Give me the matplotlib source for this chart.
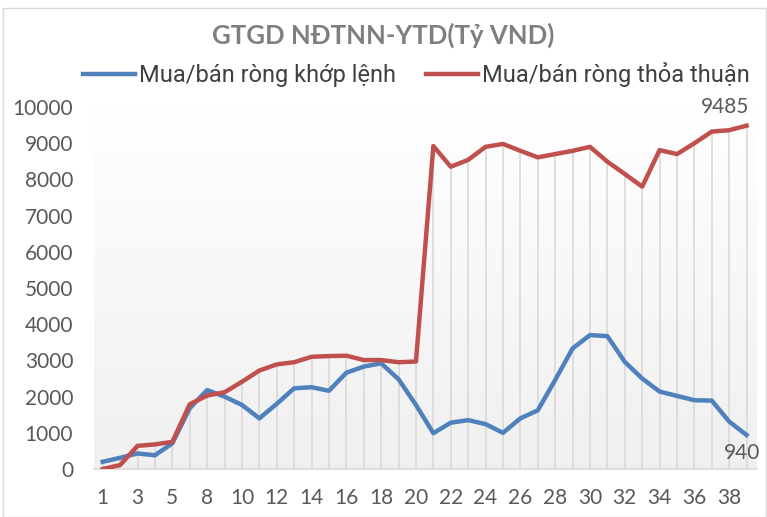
import numpy as np
import matplotlib.pyplot as plt
from matplotlib.patches import Rectangle

# category labels (one period is skipped in the source)
periods = [1, 2, 3, 4, 5, 7, 8, 9, 10, 11, 12, 13, 14, 15, 16, 17, 18, 19, 20,
           21, 22, 23, 24, 25, 26, 27, 28, 29, 30, 31, 32, 33, 34, 35, 36, 37, 38, 39]

khop_lenh = [200, 310, 430, 380, 710, 1680, 2180, 2000, 1770, 1400, 1800, 2230,
             2260, 2160, 2660, 2830, 2920, 2480, 1770, 990, 1280, 1350, 1240, 1000,
             1400, 1620, 2460, 3330, 3700, 3670, 2960, 2500, 2140, 2020, 1900, 1890,
             1310, 940]

thoa_thuan = [0, 110, 640, 680, 750, 1790, 2030, 2120, 2410, 2720, 2890, 2950,
              3100, 3120, 3130, 3010, 3010, 2950, 2970, 8920, 8350, 8540, 8900, 8980,
              8790, 8610, 8700, 8790, 8900, 8490, 8150, 7800, 8810, 8700, 9000, 9320,
              9360, 9485]

blue = '#4f81bd'
red = '#c0504d'
txt = '#595959'

fig = plt.figure(figsize=(7.67, 5.17), dpi=100)
ax = fig.add_axes([0.1226, 0.0928, 0.8644, 0.7002])

x = np.arange(len(periods))
top = np.maximum(khop_lenh, thoa_thuan)

# plot area gradient
grad = np.linspace(1, 0, 256).reshape(-1, 1)
c0 = np.array([1.0, 1.0, 1.0])
c1 = np.array([0.94, 0.94, 0.94])
img = c0 + (c1 - c0) * (1 - grad)[..., None] * np.ones((1, 1, 3))
ax.imshow(img, extent=[-0.5, 37.6, 0, 10000], aspect='auto', zorder=0)

# drop lines
ax.vlines(x, 0, top, color='#d9d9d9', lw=1.2, zorder=1)

ax.plot(x, khop_lenh, color=blue, lw=3.2, label='Mua/bán ròng khớp lệnh',
        solid_joinstyle='round', zorder=3)
ax.plot(x, thoa_thuan, color=red, lw=3.2, label='Mua/bán ròng thỏa thuận',
        solid_joinstyle='round', zorder=3)

ax.set_xlim(-0.5, 37.6)
ax.set_ylim(0, 10000)
ax.set_yticks(range(0, 10001, 1000))
ax.set_xticks(x[::2])
ax.set_xticklabels([str(p) for p in periods[::2]])
ax.tick_params(length=0, labelsize=15, labelcolor=txt)
ax.tick_params(axis='x', pad=14)
ax.tick_params(axis='y', pad=15)
for lab in ax.get_xticklabels() + ax.get_yticklabels():
    lab.set_family('Lato')

for s in ['top', 'right', 'left']:
    ax.spines[s].set_visible(False)
ax.spines['bottom'].set_color('#d9d9d9')
ax.spines['bottom'].set_linewidth(1.2)

ax.annotate(str(thoa_thuan[-1]), (x[-1], thoa_thuan[-1]), xytext=(2, 6),
            textcoords='offset points', ha='right', va='bottom',
            fontsize=15, color=txt, family='Lato')
ax.annotate(str(khop_lenh[-1]), (x[-1], khop_lenh[-1]), xytext=(-3, -6),
            textcoords='offset points', ha='center', va='top',
            fontsize=15, color=txt, family='Lato')

fig.text(0.5, 0.932, 'GTGD NĐTNN-YTD(Tỷ VND)', ha='center', va='center',
         fontsize=18.5, fontweight='bold', color='#7f7f7f', family='Lato')

fig.legend(loc='center', bbox_to_anchor=(0.543, 0.855), ncol=2, frameon=False,
           prop={'family': ['Liberation Sans Narrow', 'Roboto'], 'size': 17},
           handlelength=2.2, handletextpad=0.15, columnspacing=1.3,
           labelcolor='#404040')

fig.patches.append(Rectangle((0.004, 0.0), 0.995, 0.985, transform=fig.transFigure,
                             fill=False, edgecolor='#d9d9d9', lw=1))

fig.savefig('out.png', dpi=100)
